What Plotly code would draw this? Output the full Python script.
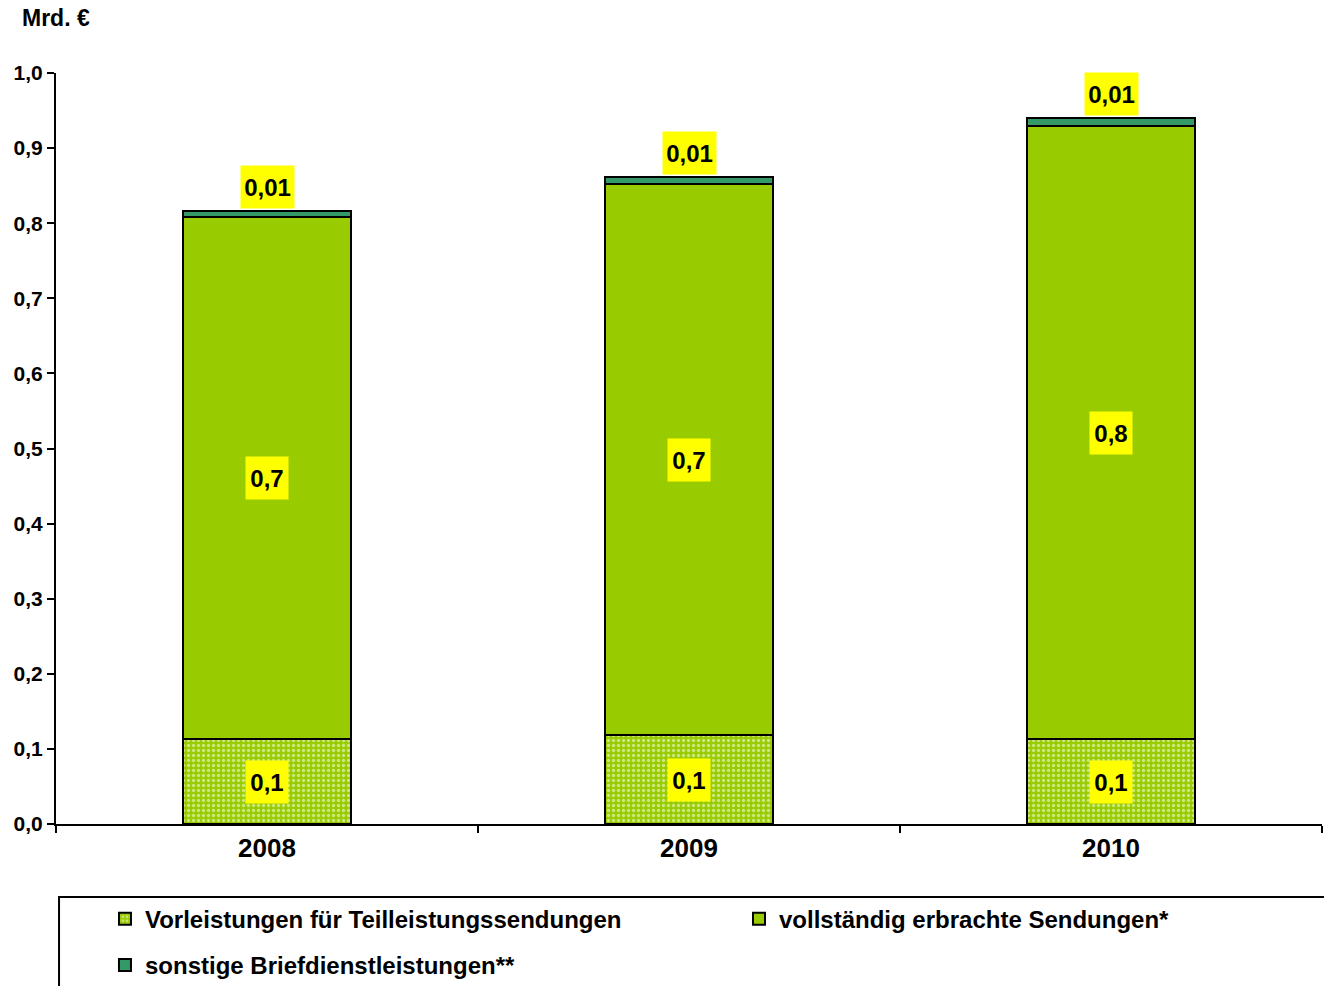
import plotly.graph_objects as go

years = ["2008", "2009", "2010"]
vorleistungen = [0.113, 0.118, 0.113]
vollstaendig = [0.695, 0.734, 0.816]
sonstige = [0.008, 0.009, 0.011]

lbl_vorleistungen = ["0,1", "0,1", "0,1"]
lbl_vollstaendig = ["0,7", "0,7", "0,8"]
lbl_sonstige = ["0,01", "0,01", "0,01"]

GREEN = "#99CC00"
DARK = "#339966"
FONT = "Arial"

fig = go.Figure()

fig.add_trace(go.Bar(
    x=years, y=vorleistungen, name="Vorleistungen für Teilleistungssendungen",
    marker=dict(color=GREEN, line=dict(color="black", width=2),
                pattern=dict(shape=".", fgcolor="white", bgcolor=GREEN,
                             size=5, solidity=0.35)),
    legend="legend",
))
fig.add_trace(go.Bar(
    x=years, y=vollstaendig, name="vollständig erbrachte Sendungen*",
    marker=dict(color=GREEN, line=dict(color="black", width=2)),
    legend="legend2",
))
fig.add_trace(go.Bar(
    x=years, y=sonstige, name="sonstige Briefdienstleistungen**",
    marker=dict(color=DARK, line=dict(color="black", width=2)),
    legend="legend3",
))


def label(x, y, txt, **kw):
    fig.add_annotation(x=x, y=y, text="<b>" + txt + "</b>", showarrow=False,
                       bgcolor="yellow", borderpad=0, width=11 * len(txt) + 9,
                       height=42, font=dict(family=FONT, size=24, color="black"), **kw)


# value labels; x given as category index
for i, yr in enumerate(years):
    base = vorleistungen[i]
    mid = base + vollstaendig[i]
    top = mid + sonstige[i]
    label(i, base / 2, lbl_vorleistungen[i])
    label(i, (base + mid) / 2, lbl_vollstaendig[i])
    label(i, top, lbl_sonstige[i], yanchor="bottom", yshift=2)

fig.add_annotation(xref="paper", yref="paper", x=-0.0284, y=1.073, xanchor="left",
                   yanchor="middle", text="<b>Mrd. €</b>", showarrow=False,
                   font=dict(family=FONT, size=23, color="black"))

# legend frame
fig.add_shape(type="rect", xref="paper", yref="paper", x0=0.0024, x1=1.004,
              y0=-0.0972, y1=-0.25, line=dict(color="black", width=2),
              fillcolor="rgba(0,0,0,0)")

legend_font = dict(family=FONT, size=24, color="black")
leg = dict(xref="container", yref="container", xanchor="left", yanchor="middle",
           font=legend_font, bgcolor="rgba(0,0,0,0)", borderwidth=0)
fig.update_layout(
    barmode="stack",
    bargap=0.6,
    showlegend=True,
    width=1332, height=986,
    margin=dict(l=48, r=18, t=65, b=170, autoexpand=False),
    paper_bgcolor="white", plot_bgcolor="white",
    separators=",.",
    font=dict(family=FONT, color="black"),
    xaxis=dict(type="category", range=[-0.5, 2.5], showline=True, linecolor="black",
               linewidth=2, ticks="outside", tickson="boundaries", ticklen=7,
               tickwidth=2, tickcolor="black", tickangle=0, automargin=False,
               ticktext=["<b>" + y + "</b>" for y in years], tickvals=years,
               tickfont=dict(family=FONT, size=26)),
    yaxis=dict(range=[0, 1.0], dtick=0.1, tickformat=".1f", showline=True,
               linecolor="black", linewidth=2, ticks="outside", ticklen=7,
               tickwidth=2, tickcolor="black", showgrid=False, zeroline=False,
               automargin=False, tickprefix="<b>", ticksuffix="</b>",
               tickfont=dict(family=FONT, size=21)),
    legend=dict(x=0.0728, y=0.076, **leg),
    legend2=dict(x=0.5488, y=0.076, **leg),
    legend3=dict(x=0.0728, y=0.029, **leg),
)
for t in fig.data:
    t.name = "<b>" + t.name + "</b>"

fig.write_html("out.html")
